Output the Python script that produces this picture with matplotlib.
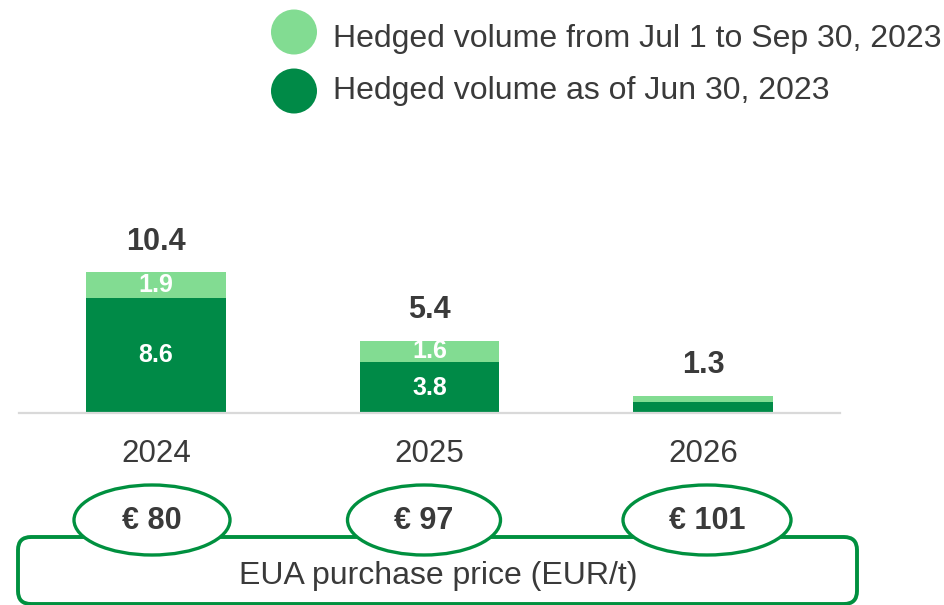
import matplotlib
matplotlib.use("Agg")
import matplotlib.pyplot as plt
from matplotlib.patches import Ellipse, FancyBboxPatch
from matplotlib.transforms import Affine2D

plt.rcParams['font.family'] = ['Liberation Sans', 'DejaVu Sans']

# ---- data ----
years = ["2024", "2025", "2026"]
hedged_jun30 = [8.6, 3.8, 0.8]          # dark green (bottom)
hedged_jul_sep = [1.9, 1.6, 0.5]        # light green (top)
totals = ["10.4", "5.4", "1.3"]
show_inner = [True, True, False]
prices = ["€ 80", "€ 97", "€ 101"]
legend_labels = ["Hedged volume from Jul 1 to Sep 30, 2023",
                 "Hedged volume as of Jun 30, 2023"]
box_label = "EUA purchase price (EUR/t)"

DARK = "#008A47"
LIGHT = "#82DC92"
TEXT = "#3A3A3A"
LINEG = "#00903F"

W, H = 945, 605
fig = plt.figure(figsize=(W / 100, H / 100), dpi=100)
px = Affine2D().scale(1, -1).translate(0, H)  # pixel coords measured from top

# axes: baseline at y=413 px, spans x 19..840 px
ax_top = 200
ax = fig.add_axes([19 / W, 1 - 413 / H, (840 - 19) / W, (413 - ax_top) / H])
x = list(range(len(years)))
ax.bar(x, hedged_jun30, width=0.51, color=DARK, zorder=2)
ax.bar(x, hedged_jul_sep, width=0.51, bottom=hedged_jun30, color=LIGHT, zorder=2)
ax.set_xlim(-0.5, 2.5)
ax.set_ylim(0, (413 - ax_top) / 13.39)

for s in ["top", "right", "left"]:
    ax.spines[s].set_visible(False)
ax.spines["bottom"].set_color("#D9D9D9")
ax.spines["bottom"].set_linewidth(1.6)
ax.set_yticks([])
ax.set_xticks(x)
ax.set_xticklabels(years, fontsize=22.5, color=TEXT)
ax.tick_params(axis="x", length=0, pad=19)

for i in x:
    top = hedged_jun30[i] + hedged_jul_sep[i]
    ax.annotate(totals[i], (i, top), xytext=(0, 16), textcoords="offset points",
                ha="center", va="baseline", fontsize=22, fontweight="bold", color=TEXT)
    if show_inner[i]:
        ax.text(i, hedged_jun30[i] / 2, f"{hedged_jun30[i]:.1f}", ha="center", va="center",
                fontsize=18, fontweight="bold", color="white", zorder=3)
        ax.text(i, hedged_jun30[i] + hedged_jul_sep[i] / 2, f"{hedged_jul_sep[i]:.1f}",
                ha="center", va="center", fontsize=18, fontweight="bold", color="white", zorder=3)

# ---- legend ----
leg_colors = [LIGHT, DARK]
leg_y = [32, 91]
txt_base = [47, 99]
for c, cy, tb, lab in zip(leg_colors, leg_y, txt_base, legend_labels):
    fig.add_artist(Ellipse((294, cy), 46, 45, facecolor=c, edgecolor="none", transform=px))
    fig.text(333 / W, 1 - tb / H, lab, fontsize=23, color=TEXT, ha="left", va="baseline")

# ---- bottom price box ----
box = FancyBboxPatch((18, 537), 857 - 18, 604 - 537,
                     boxstyle="round,pad=0,rounding_size=13",
                     facecolor="white", edgecolor=LINEG, linewidth=2.8,
                     transform=px, zorder=1)
fig.add_artist(box)
fig.text(438 / W, 1 - 584 / H, box_label, fontsize=23, color=TEXT,
         ha="center", va="baseline", zorder=5)

ell_x = [152, 424, 707]
ell_w = [156, 153, 168]
for cx, ew, lab in zip(ell_x, ell_w, prices):
    e = Ellipse((cx, 520), ew, 70, facecolor="white", edgecolor=LINEG,
                linewidth=2.4, transform=px, zorder=3)
    fig.add_artist(e)
    fig.text(cx / W, 1 - 521 / H, lab, fontsize=22, fontweight="bold", color=TEXT,
             ha="center", va="center", zorder=4)

fig.savefig("out.png", dpi=100)
